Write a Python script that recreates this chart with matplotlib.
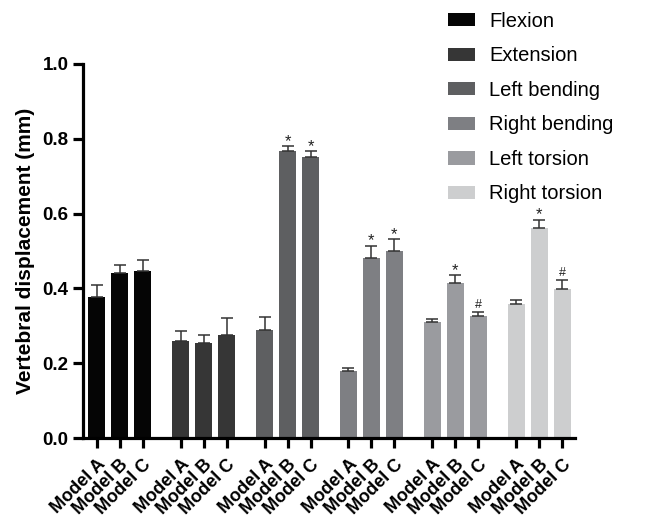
import numpy as np
import matplotlib.pyplot as plt

plt.rcParams['font.family'] = ['Liberation Sans', 'DejaVu Sans']

motions = ['Flexion', 'Extension', 'Left bending', 'Right bending', 'Left torsion', 'Right torsion']
models = ['Model A', 'Model B', 'Model C']
colors = ['#050505', '#363636', '#5e5f61', '#7e7f83', '#9a9b9f', '#cdcecf']

# mean displacement (mm) per motion, for models A, B, C
means = [
    [0.378, 0.440, 0.446],
    [0.260, 0.253, 0.276],
    [0.288, 0.767, 0.752],
    [0.180, 0.482, 0.500],
    [0.310, 0.415, 0.326],
    [0.359, 0.562, 0.399],
]
errs = [
    [0.031, 0.023, 0.030],
    [0.027, 0.023, 0.045],
    [0.036, 0.014, 0.015],
    [0.008, 0.032, 0.032],
    [0.009, 0.021, 0.010],
    [0.009, 0.022, 0.023],
]
marks = [
    ['', '', ''],
    ['', '', ''],
    ['', '*', '*'],
    ['', '*', '*'],
    ['', '*', '#'],
    ['', '*', '#'],
]

fig = plt.figure(figsize=(6.51, 5.19), dpi=100)
ax = fig.add_axes([0.1275, 0.156, 0.7555, 0.7207])

group_step = 3.65
bar_w = 0.74
ticks, labels = [], []
for g, motion in enumerate(motions):
    x = g * group_step + np.arange(3)
    ax.bar(x, means[g], width=bar_w, color=colors[g], label=motion, zorder=2)
    ax.errorbar(x, means[g], yerr=[np.zeros(3), errs[g]], fmt='none',
                ecolor='#333333', elinewidth=1.1, capsize=4, capthick=1.1, zorder=3)
    for j in range(3):
        m = marks[g][j]
        if m:
            ax.annotate(m, (x[j], means[g][j] + errs[g][j]),
                        xytext=(0, -2 if m == '*' else 1), textcoords='offset points',
                        ha='center', va='bottom', fontsize=12 if m == '*' else 9,
                        color='#222222')
    ticks.extend(x)
    labels.extend(models)

ax.set_xlim(-0.6, 5 * group_step + 2.55)
ax.set_ylim(0, 1.0)
ax.set_yticks(np.arange(0, 1.01, 0.2))
ax.set_yticklabels([f'{v:.1f}' for v in np.arange(0, 1.01, 0.2)],
                   fontsize=13.5, fontweight='bold')
ax.set_xticks(ticks)
ax.set_xticklabels(labels, rotation=45, ha='right', rotation_mode='anchor',
                   fontsize=13, fontweight='bold')
ax.set_ylabel('Vertebral displacement (mm)', fontsize=15, fontweight='bold', labelpad=5)

for side in ['top', 'right']:
    ax.spines[side].set_visible(False)
for side in ['left', 'bottom']:
    ax.spines[side].set_linewidth(2.3)
ax.tick_params(axis='both', width=2.3, length=7, color='black')
ax.tick_params(axis='x', pad=6)

fig.legend(loc='upper left', bbox_to_anchor=(0.660, 1.012), frameon=False,
           fontsize=14.5, handlelength=1.35, handleheight=0.64, handletextpad=0.7,
           labelspacing=0.77)

fig.savefig('out.png', dpi=100)
